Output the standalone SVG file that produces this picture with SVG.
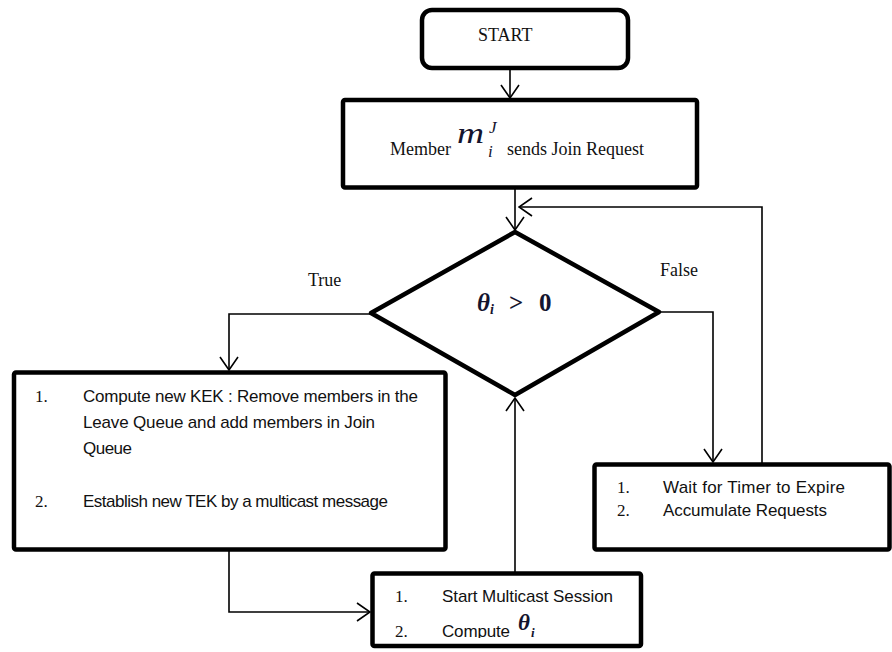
<svg xmlns="http://www.w3.org/2000/svg" width="892" height="652" viewBox="0 0 892 652">
  <defs>
    <marker id="arrow" viewBox="0 0 15 20" refX="14" refY="10" markerWidth="15" markerHeight="20" markerUnits="userSpaceOnUse" orient="auto">
      <path d="M1,1 L14,10 L1,19" fill="none" stroke="#000" stroke-width="1.6"/>
    </marker>
    <clipPath id="clipSession">
      <rect x="375" y="576" width="263" height="62"/>
    </clipPath>
  </defs>
  <style>
    .box { fill: #fff; stroke: #000; stroke-width: 4.5; stroke-linejoin: round; }
    .link { fill: none; stroke: #000; stroke-width: 1.6; }
    .serif { font-family: "Liberation Serif", "Times New Roman", serif; font-size: 18px; fill: #111; }
    .num { font-family: "Liberation Serif", "Times New Roman", serif; font-size: 17px; fill: #111; }
    .sans { font-family: "Liberation Sans", Arial, sans-serif; font-size: 17px; fill: #111; }
    .math { font-family: "Liberation Serif", "Times New Roman", serif; font-style: italic; font-weight: bold; fill: #14142e; }
    .math-light { font-family: "Liberation Serif", "Times New Roman", serif; font-style: italic; fill: #14142e; }
  </style>
  <rect width="892" height="652" fill="#fff"/>

  <!-- connectors -->
  <g id="connectors">
    <path class="link" d="M510,70 V98" marker-end="url(#arrow)"/>
    <path class="link" d="M515,189 V230" marker-end="url(#arrow)"/>
    <path class="link" d="M762,463 V207 H519" marker-end="url(#arrow)"/>
    <path class="link" d="M371,314 H229 V370" marker-end="url(#arrow)"/>
    <path class="link" d="M659,312 H713 V462" marker-end="url(#arrow)"/>
    <path class="link" d="M229,551 V612 H370" marker-end="url(#arrow)"/>
    <path class="link" d="M515,572 V398" marker-end="url(#arrow)"/>
  </g>

  <!-- edge labels -->
  <text class="serif" x="308" y="286">True</text>
  <text class="serif" x="660" y="276">False</text>

  <g id="start">
    <rect class="box" x="422" y="10" width="206" height="58" rx="10" ry="10"/>
    <text class="serif" x="478" y="41">START</text>
  </g>

  <g id="join-request">
    <rect class="box" x="343" y="100" width="354" height="87.5" rx="2"/>
    <text class="serif" x="390" y="155">Member</text>
    <!-- member symbol m with superscript J and subscript i -->
    <text class="math-light" font-size="30" transform="translate(457,143) scale(1.25,1)">m</text>
    <text class="math-light" x="489" y="133" font-size="17">J</text>
    <text class="math-light" x="488" y="157" font-size="17">i</text>
    <text class="serif" x="507" y="155">sends Join Request</text>
  </g>

  <g id="decision">
    <polygon class="box" points="515,232 659,312 515,395 371,313"/>
    <text class="math" x="477" y="311" font-size="25">θ</text>
    <text class="math" x="490" y="314" font-size="14">i</text>
    <text x="509" y="311" font-family="Liberation Serif, serif" font-size="25" font-weight="bold" fill="#14142e">&gt;</text>
    <text x="539" y="311" font-family="Liberation Serif, serif" font-size="25" font-weight="bold" fill="#14142e">0</text>
  </g>

  <g id="rekey">
    <rect class="box" x="14" y="372.5" width="431.5" height="177" rx="2"/>
    <text class="num" x="35" y="402">1.</text>
    <text class="sans" x="83" y="402" textLength="335">Compute new KEK : Remove members in the</text>
    <text class="sans" x="83" y="428" textLength="292">Leave Queue and add members in Join</text>
    <text class="sans" x="83" y="454" textLength="49">Queue</text>
    <text class="num" x="35" y="507">2.</text>
    <text class="sans" x="83" y="507" textLength="305">Establish new TEK by a multicast message</text>
  </g>

  <g id="wait">
    <rect class="box" x="594.5" y="464.5" width="295" height="85" rx="2"/>
    <text class="num" x="617" y="493">1.</text>
    <text class="sans" x="663" y="493" textLength="182">Wait for Timer to Expire</text>
    <text class="num" x="617" y="516">2.</text>
    <text class="sans" x="663" y="516" textLength="164">Accumulate Requests</text>
  </g>

  <g id="session">
    <rect class="box" x="372.5" y="573.5" width="268.5" height="72.5" rx="2"/>
    <g clip-path="url(#clipSession)">
      <text class="num" x="395" y="602">1.</text>
      <text class="sans" x="442" y="602" textLength="171">Start Multicast Session</text>
      <text class="num" x="395" y="637">2.</text>
      <text class="sans" x="442" y="637" textLength="68">Compute</text>
      <text class="math" x="518" y="630" font-size="23">θ</text>
      <text class="math" x="531" y="637" font-size="13">i</text>
    </g>
  </g>
</svg>
